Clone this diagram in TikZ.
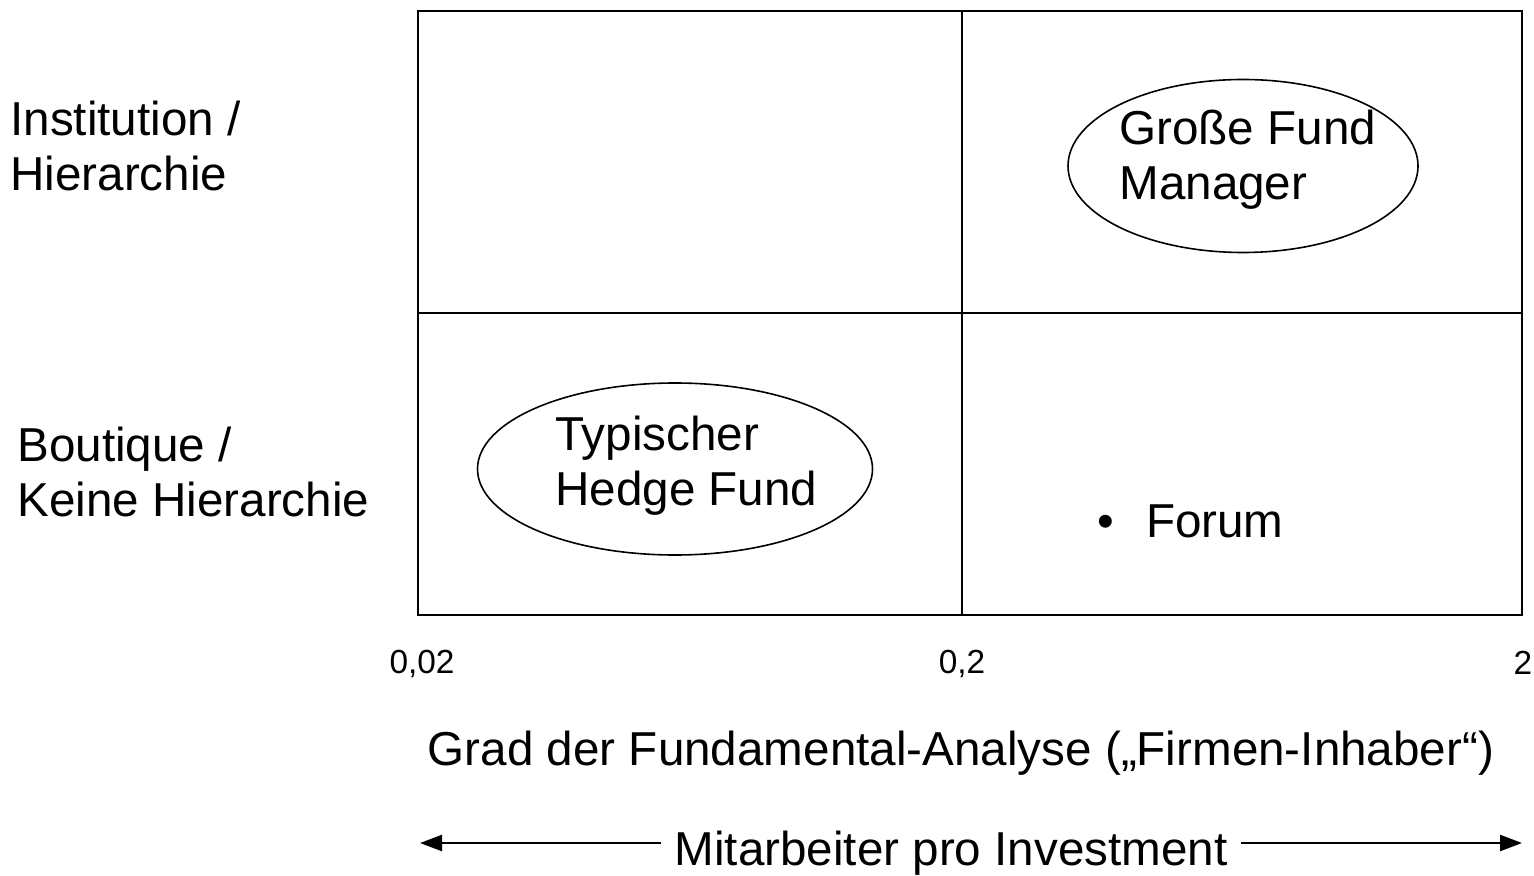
\documentclass[tikz,border=0pt]{standalone}
\usepackage{fontspec}
\setmainfont{Liberation Sans}
\usetikzlibrary{shapes.geometric,arrows.meta}
\begin{document}
\begin{tikzpicture}[x=0.5pt,y=-0.5pt,
  big/.style={font=\fontsize{23.8}{27.6}\selectfont, inner sep=0pt, align=left},
  tick/.style={font=\fontsize{16.7}{20}\selectfont, inner sep=0pt},
  frame/.style={line width=1.3pt},
  oval/.style={draw, ellipse, line width=0.8pt, inner sep=0pt},
  arr/.style={line width=1.2pt, -{Triangle[length=11pt,width=8pt]}}]
\useasboundingbox (0,0) rectangle (1534,876);
% grid
\draw[frame] (418,11) rectangle (1522,615);
\draw[frame] (962,11) -- (962,615);
\draw[frame] (418,313) -- (1522,313);
% ellipses
\node[oval, minimum width=175pt, minimum height=86.5pt] (e1) at (1243,166) {};
\node[oval, minimum width=197.5pt, minimum height=86pt] (e2) at (675,469) {};
% labels
\node[big, anchor=west] (inst) at (10,146) {Institution /\\Hierarchie};
\node[big, anchor=west] (bout) at (17,472) {Boutique /\\Keine Hierarchie};
\node[big, anchor=west] (gfm) at (1119,160) {Große Fund\\Manager};
\node[big, anchor=west] (thf) at (555,466) {Typischer\\Hedge Fund};
\node[big, anchor=west] (forum) at (1097,521) {\textbullet\hspace{16pt}Forum};
% ticks
\node[tick] (t1) at (422,664) {0,02};
\node[tick] (t2) at (962,664) {0,2};
\node[tick] (t3) at (1523,663) {2};
% axis title
\node[big] (axis) at (961,753) {Grad der Fundamental-Analyse („Firmen-Inhaber“)};
% arrow
\coordinate (al) at (420,843);
\coordinate (ar) at (1522,843);
\node[big, inner xsep=6.5pt] (mit) at (951,853) {Mitarbeiter pro Investment};
\draw[arr] (mit.west |- al) -- (al);
\draw[arr] (mit.east |- ar) -- (ar);
\end{tikzpicture}
\end{document}
